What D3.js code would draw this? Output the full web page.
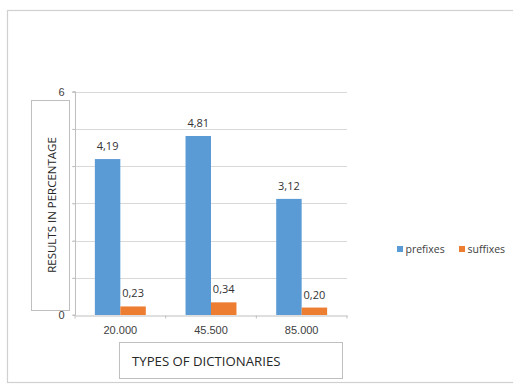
<!DOCTYPE html>
<html>
<head>
<meta charset="utf-8">
<script src="https://cdn.jsdelivr.net/npm/d3@7"></script>
<style>
  html, body { margin: 0; padding: 0; background: #fff; }
  svg { display: block; font-family: "Open Sans", "Liberation Sans", sans-serif; }
</style>
</head>
<body>
<svg id="chart" width="513" height="386"></svg>
<script>
// Dictionary sizes and share of prefix / suffix results (%)
const categories = ["20.000", "45.500", "85.000"];
const seriesNames = ["prefixes", "suffixes"];
const prefixes = [4.19, 4.81, 3.12];
const suffixes = [0.23, 0.34, 0.20];
const yTicks = [0, 1, 2, 3, 4, 5, 6];
const yTitle = "RESULTS IN PERCENTAGE";
const xTitle = "TYPES OF DICTIONARIES";

const colors = { prefixes: "#5b9bd5", suffixes: "#ed7d31" };
const values = { prefixes, suffixes };

const svg = d3.select("#chart");

// outer chart frame
svg.append("rect")
  .attr("x", 7.5).attr("y", 10.5)
  .attr("width", 520).attr("height", 372)
  .attr("fill", "#fff").attr("stroke", "#d0d0d0").attr("stroke-width", 1.2);

const plot = { left: 75, right: 347, top: 91.7, bottom: 315 };

const y = d3.scaleLinear().domain([0, 6]).range([plot.bottom, plot.top]);
const x = d3.scaleBand().domain(categories).range([plot.left, plot.right]).padding(0);
const xs = d3.scaleBand().domain(seriesNames).range([0, x.bandwidth()])
  .paddingInner(0).paddingOuter(0.78);

// horizontal gridlines
svg.append("g").selectAll("line")
  .data(yTicks.filter(t => t > 0))
  .join("line")
  .attr("x1", plot.left - 3).attr("x2", plot.right)
  .attr("y1", d => Math.round(y(d)) + 0.5).attr("y2", d => Math.round(y(d)) + 0.5)
  .attr("stroke", "#d9d9d9").attr("stroke-width", 1);

// y axis
const yAxis = svg.append("g")
  .attr("transform", `translate(${plot.left + 0.5},0)`)
  .call(d3.axisLeft(y).tickValues(yTicks).tickSize(3).tickPadding(8).tickFormat(d3.format("d")));
yAxis.select(".domain").attr("stroke", "#bfbfbf").attr("d", `M-3,${plot.top}H0V${plot.bottom}H-3`);
yAxis.selectAll(".tick line").attr("stroke", "#bfbfbf");
yAxis.selectAll(".tick text").attr("fill", "#404040").attr("font-size", 11);

// bars
seriesNames.forEach(s => {
  svg.append("g").selectAll("rect")
    .data(categories.map((c, i) => ({ c, v: values[s][i] })))
    .join("rect")
    .attr("x", d => x(d.c) + xs(s))
    .attr("width", xs.bandwidth())
    .attr("y", d => y(d.v))
    .attr("height", d => y(0) - y(d.v))
    .attr("fill", colors[s]);

  svg.append("g").selectAll("text")
    .data(categories.map((c, i) => ({ c, v: values[s][i] })))
    .join("text")
    .attr("x", d => x(d.c) + xs(s) + xs.bandwidth() / 2)
    .attr("y", d => y(d.v) - 9)
    .attr("text-anchor", "middle")
    .attr("font-size", 11)
    .attr("fill", "#333")
    .text(d => d3.format(".2f")(d.v).replace(".", ","));
});

// x axis
const xAxis = svg.append("g")
  .attr("transform", `translate(0,${plot.bottom + 0.5})`)
  .call(d3.axisBottom(x).tickSize(0).tickPadding(11));
xAxis.select(".domain").attr("stroke", "#bfbfbf");
xAxis.selectAll(".tick text").attr("fill", "#404040").attr("font-size", 11);
// category separators
xAxis.append("g").selectAll("line")
  .data(d3.range(categories.length + 1))
  .join("line")
  .attr("x1", i => plot.left + i * x.step()).attr("x2", i => plot.left + i * x.step())
  .attr("y1", 0).attr("y2", 3)
  .attr("stroke", "#bfbfbf");

// y axis title box
svg.append("rect")
  .attr("x", 31.5).attr("y", 100.5).attr("width", 38).attr("height", 210)
  .attr("fill", "#fff").attr("stroke", "#bfbfbf");
svg.append("text")
  .attr("transform", "translate(55.5,205) rotate(-90)")
  .attr("text-anchor", "middle")
  .attr("font-size", 11.5)
  .attr("fill", "#262626")
  .text(yTitle);

// x axis title box
svg.append("rect")
  .attr("x", 119.5).attr("y", 342.5).attr("width", 223).attr("height", 36)
  .attr("fill", "#fff").attr("stroke", "#bfbfbf");
svg.append("text")
  .attr("x", 132).attr("y", 365.5)
  .attr("font-size", 13.2)
  .attr("fill", "#262626")
  .text(xTitle);

// legend
const legend = svg.append("g").attr("transform", "translate(397,249)");
const lx = [0, 62];
seriesNames.forEach((s, i) => {
  const g = legend.append("g").attr("transform", `translate(${lx[i]},0)`);
  g.append("rect").attr("x", 0).attr("y", -3).attr("width", 6).attr("height", 6).attr("fill", colors[s]);
  g.append("text").attr("x", 8.5).attr("y", 3.8).attr("font-size", 10.5).attr("fill", "#404040").text(s);
});
</script>
</body>
</html>
